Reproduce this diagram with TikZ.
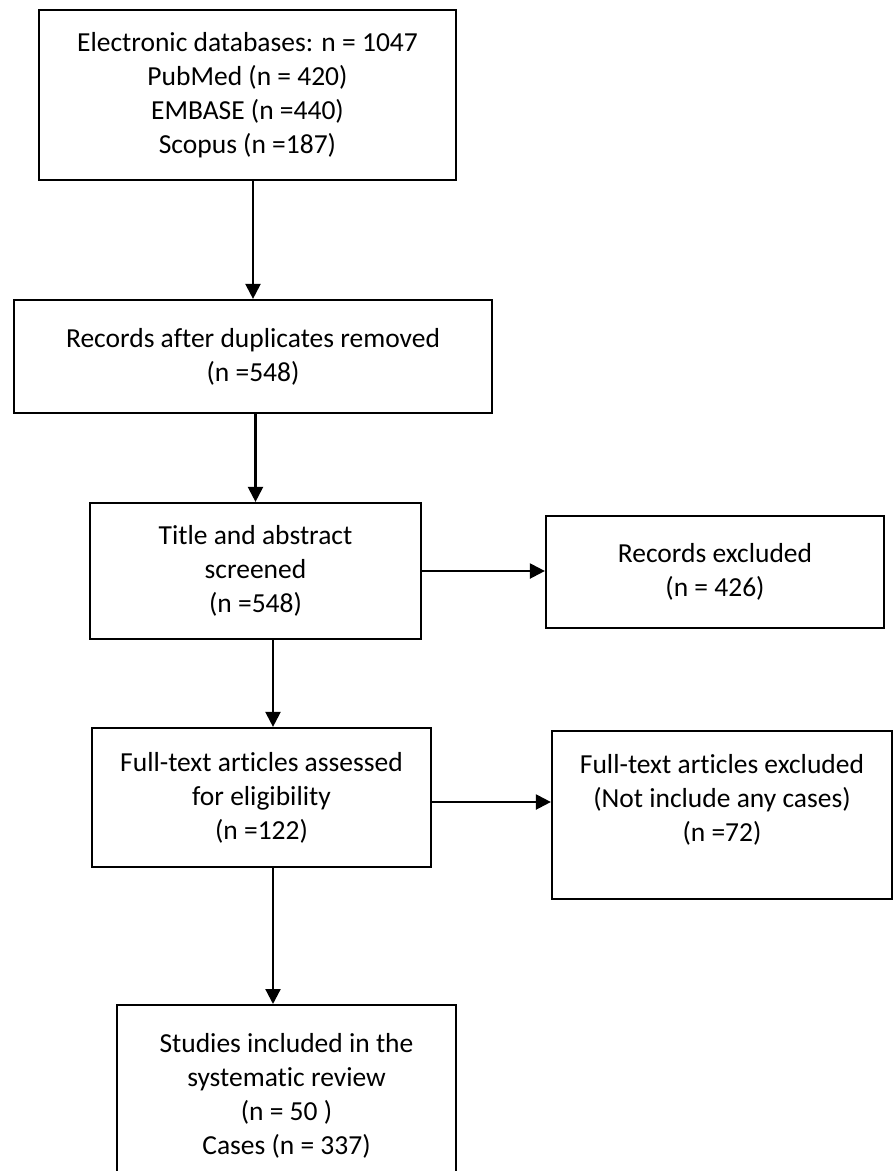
\documentclass[tikz,border=0pt]{standalone}
\usepackage{fontspec}
\setmainfont{Carlito}[Ligatures=NoCommon]
\usetikzlibrary{arrows.meta}
\begin{document}
\begin{tikzpicture}[x=1pt, y=-1pt,
  box/.style={draw, line width=2.2pt, align=center, inner sep=0pt, font=\fontsize{27.5}{34}\selectfont},
  arr/.style={line width=2.2pt, -{Triangle[length=15pt,width=15pt]}}]
\useasboundingbox (0,0) rectangle (893,1171);
\clip (0,0) rectangle (893,1171);
\node (db) [box, minimum width=417pt, minimum height=170pt] at (247.5,95) {Electronic databases: n = 1047\\PubMed (n = 420)\\EMBASE (n =440)\\Scopus (n =187)};
\node (dup) [box, minimum width=478pt, minimum height=113pt] at (253,356.5) {Records after duplicates removed\\(n =548)};
\node (screen) [box, minimum width=331pt, minimum height=136pt] at (255.5,571) {Title and abstract\\screened\\(n =548)};
\node (excl) [box, minimum width=338pt, minimum height=112pt] at (715,572) {Records excluded\\(n = 426)};
\node (full) [box, minimum width=339pt, minimum height=139pt] at (261.5,797.5) {Full-text articles assessed\\for eligibility\\(n =122)};
\node (fullex) [box, minimum width=340pt, minimum height=168pt] at (722,815) {Full-text articles excluded\\(Not include any cases)\\(n =72)\\ \mbox{}};
\node (incl) [box, minimum width=339pt, minimum height=182pt, anchor=north] at (286.5,1004) {Studies included in the\\systematic review\\(n = 50 )\\Cases (n = 337)};
\draw [arr] (db.south -| dup.north) -- (dup.north);
\draw [arr] (dup.south -| screen.north) -- (screen.north);
\draw [arr] (screen.east) -- (screen.east -| excl.west);
\draw [arr] ([xshift=11.5pt]full.north |- screen.south) -- ([xshift=11.5pt]full.north);
\draw [arr] ([yshift=-4.5pt]full.east) -- ([yshift=-4.5pt]full.east -| fullex.west);
\draw [arr] ([xshift=11.5pt]full.south) -- ([xshift=11.5pt]full.south |- incl.north);
\end{tikzpicture}
\end{document}
